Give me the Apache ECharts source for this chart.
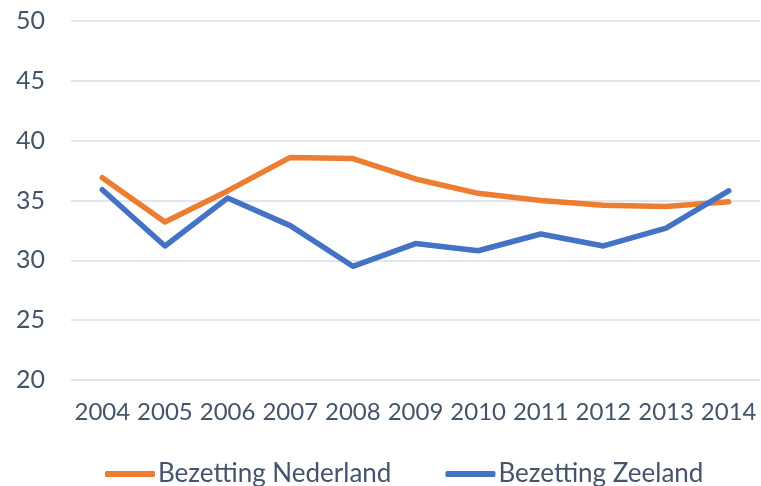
<!DOCTYPE html>
<html>
<head>
<meta charset="utf-8">
<script src="https://cdn.jsdelivr.net/npm/echarts@6/dist/echarts.min.js"></script>
<style>
	html, body { margin: 0; padding: 0; background: #fff; }
	#chart { width: 761px; height: 486px; }
</style>
</head>
<body>
<div id="chart"></div>
<script>
	// jaren en bezetting
	var years = ['2004', '2005', '2006', '2007', '2008', '2009', '2010', '2011', '2012', '2013', '2014'];
	var nederland = [36.9, 33.2, 35.8, 38.6, 38.5, 36.8, 35.6, 35.0, 34.6, 34.5, 34.9];
	var zeeland = [35.9, 31.2, 35.2, 32.9, 29.5, 31.4, 30.8, 32.2, 31.2, 32.7, 35.8];
	var yTicks = [20, 50, 5]; // min, max, interval

	var labelFont = 'Lato, "Open Sans", sans-serif';
	var textColor = '#44546a';

	var chart = echarts.init(document.getElementById('chart'));
	var option = {
		animation: false,
		grid: { left: 71, right: 1, top: 21, bottom: 106 },
		legend: {
			top: 456,
			left: 100,
			itemWidth: 50,
			itemHeight: 6,
			itemGap: 54,
			icon: 'roundRect',
			textStyle: { color: textColor, fontSize: 26, fontFamily: labelFont, padding: [0, 0, 0, -2] },
			data: ['Bezetting Nederland', 'Bezetting Zeeland']
		},
		xAxis: {
			type: 'category',
			data: years,
			boundaryGap: true,
			axisLine: { show: false },
			axisTick: { show: false },
			axisLabel: { color: textColor, fontSize: 24, fontFamily: labelFont, margin: 20, interval: 0 }
		},
		yAxis: {
			type: 'value',
			min: yTicks[0],
			max: yTicks[1],
			interval: yTicks[2],
			axisLine: { show: false },
			axisTick: { show: false },
			axisLabel: { color: textColor, fontSize: 25, fontFamily: labelFont, margin: 26 },
			splitLine: { lineStyle: { color: '#d9dde6', width: 1.5 } }
		},
		series: [
			{
				name: 'Bezetting Nederland',
				type: 'line',
				data: nederland,
				symbol: 'none',
				color: '#ed7d31',
				lineStyle: { width: 5.5, color: '#ed7d31', cap: 'round', join: 'round' }
			},
			{
				name: 'Bezetting Zeeland',
				type: 'line',
				data: zeeland,
				symbol: 'none',
				color: '#4472c4',
				lineStyle: { width: 5.5, color: '#4472c4', cap: 'round', join: 'round' }
			}
		]
	};
	chart.setOption(option);
</script>
</body>
</html>
